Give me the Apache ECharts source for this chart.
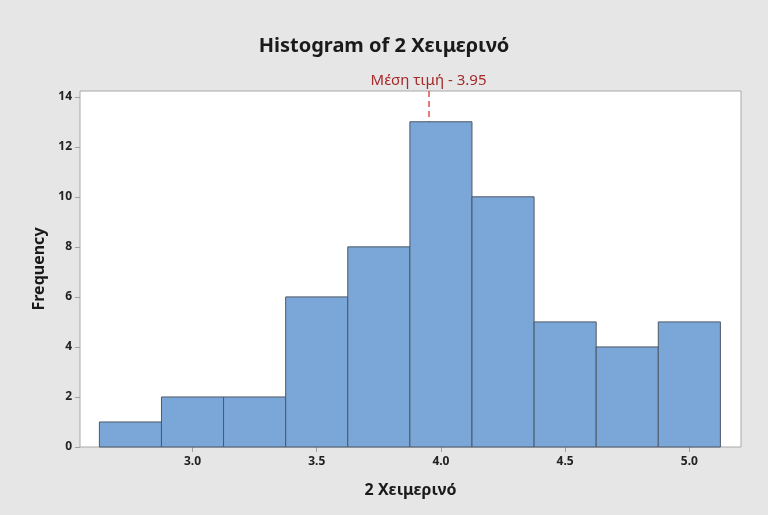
<!DOCTYPE html>
<html>
<head>
<meta charset="utf-8">
<script src="https://cdn.jsdelivr.net/npm/echarts@6/dist/echarts.min.js"></script>
<style>
  html, body { margin: 0; padding: 0; background: #e6e6e6; }
  #chart { width: 768px; height: 515px; }
</style>
</head>
<body>
<div id="chart"></div>
<script>
// histogram bins (midpoints) and frequencies
const binMids = [2.75, 3.0, 3.25, 3.5, 3.75, 4.0, 4.25, 4.5, 4.75, 5.0];
const counts = [1, 2, 2, 6, 8, 13, 10, 5, 4, 5];
const binWidth = 0.25;
const meanValue = 3.95;
const xTicks = [3.0, 3.5, 4.0, 4.5, 5.0];
const yTicks = [0, 2, 4, 6, 8, 10, 12, 14];

const font = "'Noto Sans', 'Open Sans', sans-serif";
const bins = binMids.map((m, i) => [m - binWidth / 2, m + binWidth / 2, counts[i]]);

const chart = echarts.init(document.getElementById("chart"));
chart.setOption({
  backgroundColor: "#e6e6e6",
  animation: false,
  title: {
    text: "Histogram of 2 Χειμερινό",
    left: "center",
    top: 31,
    textStyle: { fontFamily: font, fontSize: 20, fontWeight: "bold", color: "#1a1a1a" },
  },
  grid: {
    left: 80,
    right: 27,
    top: 91,
    bottom: 68,
    show: true,
    backgroundColor: "#fff",
    borderColor: "#a8a8a8",
    borderWidth: 1,
  },
  xAxis: {
    type: "value",
    min: 2.547,
    max: 5.208,
    name: "2 Χειμερινό",
    nameLocation: "middle",
    nameGap: 35,
    nameTextStyle: { fontFamily: font, fontSize: 16, fontWeight: "bold", color: "#1a1a1a" },
    axisLine: { show: false },
    splitLine: { show: false },
    axisTick: { show: true, length: 5, lineStyle: { color: "#a0a0a0" }, customValues: xTicks },
    axisLabel: {
      fontFamily: font, fontSize: 12, fontWeight: "bold", color: "#222", margin: 9,
      customValues: xTicks,
      formatter: (v) => v.toFixed(1),
    },
  },
  yAxis: {
    type: "value",
    min: 0,
    max: 14.23,
    name: "Frequency",
    nameLocation: "middle",
    nameGap: 33,
    nameTextStyle: { fontFamily: font, fontSize: 16, fontWeight: "bold", color: "#1a1a1a" },
    axisLine: { show: false },
    splitLine: { show: false },
    axisTick: { show: true, length: 5, lineStyle: { color: "#a0a0a0" }, customValues: yTicks },
    axisLabel: { fontFamily: font, fontSize: 12, fontWeight: "bold", color: "#222", margin: 8, customValues: yTicks },
  },
  series: [
    {
      type: "line",
      data: [],
      z: 1,
      markLine: {
        silent: true,
        z: 1,
        symbol: ["none", "none"],
        lineStyle: { color: "#d9534f", type: [6, 4], width: 1.5 },
        label: {
          show: true,
          position: "end",
          distance: 3,
          formatter: "Μέση τιμή - " + meanValue.toFixed(2),
          fontFamily: font,
          fontSize: 15,
          color: "#a52a2a",
        },
        data: [{ xAxis: meanValue }],
      },
    },
    {
      type: "custom",
      z: 3,
      data: bins,
      encode: { x: [0, 1], y: 2 },
      renderItem: (params, api) => {
        const p0 = api.coord([api.value(0), api.value(2)]);
        const p1 = api.coord([api.value(1), 0]);
        return {
          type: "rect",
          shape: { x: p0[0], y: p0[1], width: p1[0] - p0[0], height: p1[1] - p0[1] },
          style: { fill: "#7ba6d8", stroke: "#4d5866", lineWidth: 1 },
        };
      },
    },
  ],
});
</script>
</body>
</html>
